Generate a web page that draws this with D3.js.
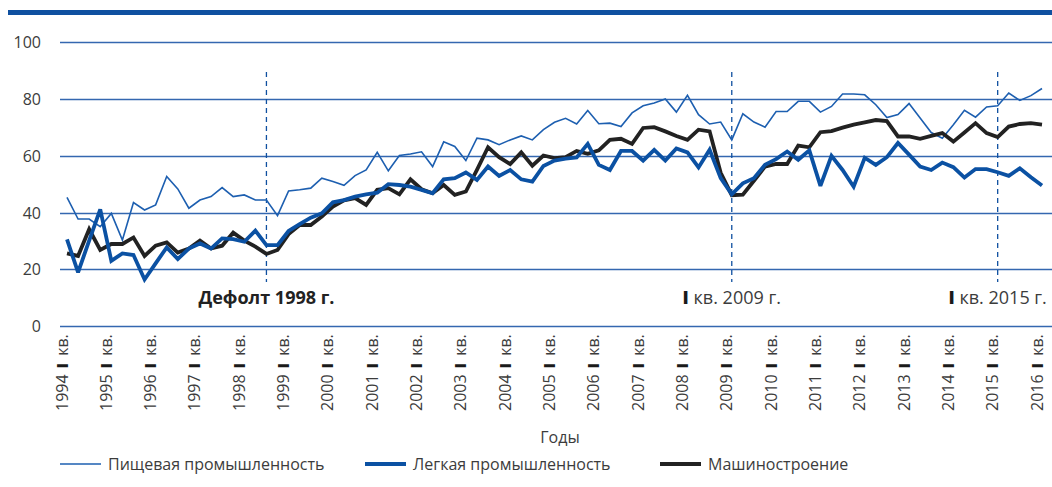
<!DOCTYPE html>
<html>
<head>
<meta charset="utf-8">
<script src="https://cdn.jsdelivr.net/npm/d3@7"></script>
<style>
  body { margin: 0; background: #fff; }
  svg { display: block; font-family: 'Open Sans', sans-serif; }
</style>
</head>
<body>
<div id="chart"></div>
<script>
// годы (I квартал каждого года) — подписи оси X
var years = [1994, 1995, 1996, 1997, 1998, 1999, 2000, 2001, 2002, 2003, 2004, 2005,
  2006, 2007, 2008, 2009, 2010, 2011, 2012, 2013, 2014, 2015, 2016];

var yTicks = [0, 20, 40, 60, 80, 100];

// поквартальные значения, 1994 I кв. — 2016 I кв.
var food = [
  45.3, 37.7, 37.7, 35.0, 39.7, 30.3, 43.5, 40.9, 42.7, 52.7, 48.3, 41.5,
  44.4, 45.6, 48.8, 45.6, 46.2, 44.4, 44.4, 38.9, 47.6, 48.0, 48.6, 52.1,
  50.9, 49.6, 53.0, 55.0, 61.2, 54.7, 60.1, 60.6, 61.4, 56.2, 64.9, 63.3,
  58.3, 66.2, 65.6, 63.9, 65.6, 67.0, 65.6, 69.2, 71.8, 73.2, 71.2, 76.0,
  71.3, 71.5, 70.3, 75.1, 77.6, 78.6, 80.0, 75.4, 81.3, 74.5, 71.2, 71.9,
  65.6, 74.8, 71.9, 70.1, 75.6, 75.6, 79.2, 79.2, 75.4, 77.4, 81.8, 81.8,
  81.5, 78.0, 73.5, 74.5, 78.4, 73.3, 68.2, 66.2, 70.9, 76.0, 73.6, 77.2,
  77.6, 82.1, 79.5, 81.2, 83.7
];

var light = [
  30.5, 18.9, 30.1, 41.1, 23.0, 25.6, 25.0, 16.4, 22.1, 27.7, 23.6, 27.3,
  29.1, 27.3, 30.9, 30.6, 29.7, 33.6, 28.5, 28.5, 33.5, 35.9, 38.2, 39.7,
  43.6, 44.4, 45.6, 46.4, 47.0, 50.0, 49.7, 49.1, 48.0, 46.8, 51.7, 52.1,
  54.1, 51.5, 56.2, 52.9, 55.0, 51.7, 50.9, 56.4, 58.3, 59.0, 59.4, 64.2,
  56.8, 55.0, 61.7, 61.7, 58.3, 62.1, 58.3, 62.6, 61.2, 55.9, 62.1, 52.1,
  46.4, 50.3, 52.1, 56.8, 58.8, 61.5, 58.6, 61.9, 49.4, 60.0, 55.0, 49.1,
  59.3, 56.8, 59.5, 64.5, 60.4, 56.2, 55.0, 57.6, 56.0, 52.3, 55.3, 55.3,
  54.2, 52.9, 55.6, 52.4, 49.5
];

var machine = [
  25.6, 24.7, 34.1, 26.8, 28.9, 28.9, 31.2, 24.7, 28.3, 29.5, 25.9, 27.3,
  30.1, 27.3, 28.3, 32.9, 30.1, 28.0, 25.4, 26.8, 32.4, 35.6, 35.6, 38.6,
  42.1, 44.3, 45.1, 42.7, 48.0, 48.6, 46.4, 51.7, 48.2, 46.8, 49.7, 46.2,
  47.4, 55.0, 63.0, 59.5, 57.1, 61.2, 56.5, 60.1, 59.2, 59.5, 61.7, 60.7,
  61.9, 65.6, 66.0, 64.2, 69.8, 70.1, 68.6, 67.0, 65.6, 69.2, 68.6, 54.0,
  46.1, 46.3, 51.2, 56.2, 57.1, 57.1, 63.6, 63.0, 68.3, 68.7, 69.9, 71.0,
  71.8, 72.6, 72.2, 66.8, 66.8, 66.0, 67.0, 68.0, 65.0, 68.2, 71.5, 68.0,
  66.6, 70.3, 71.2, 71.5, 71.0
];

// отмеченные события: индекс квартала и подпись
var events = [
  { q: 18, label: 'Дефолт 1998 г.', bold: true },
  { q: 60, label: 'кв. 2009 г.', bold: false },
  { q: 84, label: 'кв. 2015 г.', bold: false }
];

var seriesNames = ['Пищевая промышленность', 'Легкая промышленность', 'Машиностроение'];

var width = 1052;
var height = 487;
var blue = '#0f50a0';
var grid = '#3467b0';
var textColor = '#3c3c3c';

var svg = d3.select('#chart').append('svg')
  .attr('width', width)
  .attr('height', height);

var x = d3.scaleLinear().domain([0, food.length - 1]).range([67, 1042]);
var y = d3.scaleLinear().domain([0, 100]).range([326, 42.3]);

// верхняя полоса
svg.append('rect')
  .attr('x', 8)
  .attr('y', 10)
  .attr('width', width - 8)
  .attr('height', 5)
  .style('fill', blue);

// сетка
svg.append('g')
  .selectAll('line')
  .data(yTicks)
  .enter()
  .append('line')
  .attr('x1', 60)
  .attr('x2', width)
  .attr('y1', function(d) { return Math.round(y(d)) + 0.5; })
  .attr('y2', function(d) { return Math.round(y(d)) + 0.5; })
  .style('stroke', grid)
  .style('stroke-width', 1.3);

svg.append('g')
  .selectAll('text')
  .data(yTicks)
  .enter()
  .append('text')
  .attr('x', 41)
  .attr('y', function(d) { return y(d) + 6; })
  .attr('text-anchor', 'end')
  .style('font-size', '16px')
  .style('fill', textColor)
  .text(function(d) { return d; });

// подписи оси X (повёрнуты, читаются снизу вверх)
var xLabels = svg.append('g')
  .selectAll('text')
  .data(years)
  .enter()
  .append('text')
  .attr('transform', function(d, i) {
    return 'translate(' + (x(i * 4) + 0.5) + ',411) rotate(-90)';
  })
  .attr('text-anchor', 'start')
  .style('font-size', '16px')
  .style('fill', textColor);

xLabels.append('tspan').text(function(d) { return d; });
xLabels.append('tspan')
  .attr('dx', 6)
  .style('font-weight', 800)
  .style('fill', '#1a1a1a')
  .text('I');
xLabels.append('tspan')
  .attr('dx', 7)
  .text('кв.');

svg.append('text')
  .attr('x', 560)
  .attr('y', 443)
  .attr('text-anchor', 'middle')
  .style('font-size', '16px')
  .style('fill', textColor)
  .text('Годы');

// вертикальные пунктиры
svg.append('g')
  .selectAll('line')
  .data(events)
  .enter()
  .append('line')
  .attr('x1', function(d) { return x(d.q); })
  .attr('x2', function(d) { return x(d.q); })
  .attr('y1', 72)
  .attr('y2', 282)
  .style('stroke', blue)
  .style('stroke-width', 1.3)
  .style('stroke-dasharray', '5,4');

var ev = svg.append('g')
  .selectAll('text')
  .data(events)
  .enter()
  .append('text')
  .attr('x', function(d) { return x(d.q); })
  .attr('y', 304)
  .attr('text-anchor', 'middle')
  .style('font-size', '18px')
  .style('fill', function(d) { return d.bold ? '#222' : textColor; })
  .style('font-weight', function(d) { return d.bold ? 700 : 400; });

ev.filter(function(d) { return !d.bold; })
  .append('tspan')
  .style('font-weight', 800)
  .style('fill', '#1a1a1a')
  .text('I ');
ev.append('tspan').text(function(d) { return d.label; });

// линии
var line = d3.line()
  .x(function(d, i) { return x(i); })
  .y(function(d) { return y(d); });

var styles = [
  { data: food, color: '#1d5fb0', w: 1.6 },
  { data: light, color: '#0b51a3', w: 3.8 },
  { data: machine, color: '#222222', w: 3.8 }
];

var drawOrder = [0, 2, 1];
drawOrder.forEach(function(k) {
  svg.append('path')
    .attr('d', line(styles[k].data))
    .style('fill', 'none')
    .style('stroke', styles[k].color)
    .style('stroke-width', styles[k].w)
    .style('stroke-linejoin', 'miter')
    .style('stroke-miterlimit', 3);
});

// легенда
var legendX = [60, 365, 660];
var legend = svg.append('g')
  .selectAll('g')
  .data(seriesNames)
  .enter()
  .append('g')
  .attr('transform', function(d, i) { return 'translate(' + legendX[i] + ',464)'; });

legend.append('line')
  .attr('x1', 0)
  .attr('x2', 41)
  .attr('y1', 0)
  .attr('y2', 0)
  .style('stroke', function(d, i) { return styles[i].color; })
  .style('stroke-width', function(d, i) { return styles[i].w; });

legend.append('text')
  .attr('x', 48)
  .attr('y', 6)
  .style('font-size', '16px')
  .style('fill', textColor)
  .text(function(d) { return d; });
</script>
</body>
</html>
